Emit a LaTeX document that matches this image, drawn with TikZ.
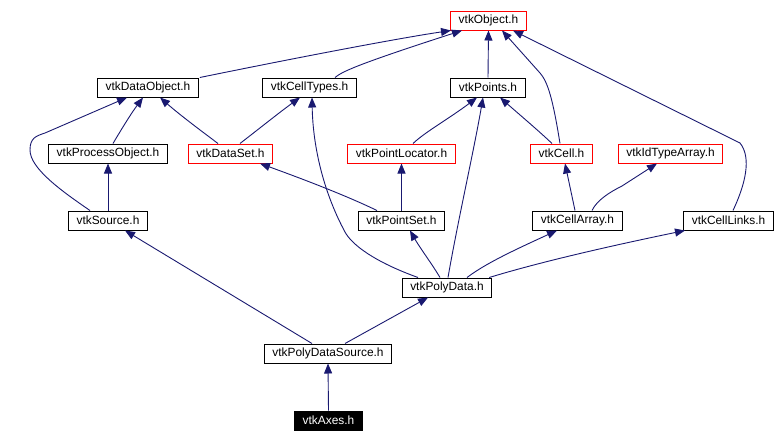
\documentclass[tikz,border=0pt]{standalone}
\usepackage{fontspec}
\setmainfont{Liberation Sans}
\usetikzlibrary{arrows.meta,calc}
\definecolor{edgeblue}{RGB}{25,25,112}
\tikzset{
  hbox/.style={draw=black, line width=1pt, rectangle, inner xsep=8pt, inner ysep=0pt,
    minimum height=19pt, font=\fontsize{11.9}{14}\selectfont, fill=white},
  redbox/.style={hbox, draw=red},
  blackbox/.style={hbox, fill=black, text=white},
  edge/.style={draw=edgeblue, line width=0.9pt, -{Triangle[length=10pt,width=8pt]}}
}
\begin{document}
\begin{tikzpicture}[x=1pt,y=-1pt]
\useasboundingbox (0,0) rectangle (778,442);
% nodes
\node[redbox] (obj) at (488.5,20.5) {vtkObject.h};
\node[hbox] (dobj) at (148,87.5) {vtkDataObject.h};
\node[hbox] (ctypes) at (309.5,87.5) {vtkCellTypes.h};
\node[hbox] (pts) at (488,87.5) {vtkPoints.h};
\node[hbox] (pobj) at (108,153.5) {vtkProcessObject.h};
\node[redbox] (dset) at (230.5,153.5) {vtkDataSet.h};
\node[redbox] (ploc) at (401.5,153.5) {vtkPointLocator.h};
\node[redbox] (cell) at (561.5,153.5) {vtkCell.h};
\node[redbox] (idta) at (670.5,153.5) {vtkIdTypeArray.h};
\node[hbox] (src) at (108,220.5) {vtkSource.h};
\node[hbox] (pset) at (401.5,220.5) {vtkPointSet.h};
\node[hbox] (carr) at (577.5,220.5) {vtkCellArray.h};
\node[hbox] (clinks) at (728.5,220.5) {vtkCellLinks.h};
\node[hbox] (pdata) at (447,287.5) {vtkPolyData.h};
\node[hbox] (pdsrc) at (328,353.5) {vtkPolyDataSource.h};
\node[blackbox] (axes) at (328.5,420.5) {vtkAxes.h};
% edges
\draw[edge] ([xshift=1pt]dobj.north east) .. controls (300,57) and (400,38) .. ([xshift=-37.5pt]obj.south);
\draw[edge] ([xshift=25.5pt]ctypes.north) .. controls (342,72) and (352,66) .. ([xshift=-26.5pt]obj.south);
\draw[edge] (pts.north) -- (obj.south);
\draw[edge] ([xshift=-1.5pt]cell.north) .. controls (553,100) and (548,82) .. (540,73) -- ([xshift=13.5pt]obj.south);
\draw[edge] ([xshift=4.5pt]clinks.north) .. controls (745,185) and (752,158) .. (740,143) -- ([xshift=24.5pt]obj.south);
\draw[edge] ([xshift=5pt]pobj.north) .. controls (118,135) and (130,115) .. ([xshift=-5pt]dobj.south);
\draw[edge] ([xshift=-18pt]src.north) .. controls (60,190) and (30,168) .. (30,150) .. controls (30,138) and (36,136) .. (45,133) -- ([xshift=-21pt]dobj.south);
\draw[edge] ([xshift=-12.5pt]dset.north) .. controls (200,130) and (180,115) .. ([xshift=12pt]dobj.south);
\draw[edge] ([xshift=9.5pt]dset.north) .. controls (260,128) and (280,112) .. ([xshift=-9.5pt]ctypes.south);
\draw[edge] ([xshift=-29pt]pdata.north) .. controls (375,262) and (352,245) .. (345,232) .. controls (325,195) and (313,150) .. ([xshift=2.5pt]ctypes.south);
\draw[edge] ([xshift=11.5pt]ploc.north) .. controls (425,132) and (450,118) .. ([xshift=-11pt]pts.south);
\draw[edge] ([xshift=-9.5pt]cell.north) .. controls (540,132) and (520,115) .. ([xshift=12pt]pts.south);
\draw[edge] (pset.north) -- (ploc.south);
\draw[edge] ([xshift=-24.5pt]pset.north) .. controls (345,195) and (300,178) .. ([xshift=29.5pt]dset.south);
\draw[edge] ([xshift=-2.5pt]carr.north) -- ([xshift=3.5pt]cell.south);
\draw[edge] ([xshift=14.5pt]carr.north) .. controls (597,200) and (610,192) .. (622,186) -- ([xshift=-13.5pt]idta.south);
\draw[edge] (src.north) -- (pobj.south);
\draw[edge] ([xshift=-16pt]pdsrc.north) -- ([xshift=17pt]src.south);
\draw[edge] ([xshift=17pt]pdsrc.north) -- ([xshift=-19pt]pdata.south);
\draw[edge] (axes.north) -- (pdsrc.south);
\draw[edge] ([xshift=1pt]pdata.north) .. controls (458,220) and (474,150) .. ([xshift=-5pt]pts.south);
\draw[edge] ([xshift=-7pt]pdata.north) .. controls (432,264) and (420,248) .. ([xshift=8.5pt]pset.south);
\draw[edge] ([xshift=20pt]pdata.north) .. controls (485,264) and (510,252) .. ([xshift=-20.5pt]carr.south);
\draw[edge] ([xshift=-3pt]pdata.north east) .. controls (540,262) and (610,246) .. ([xshift=-43.5pt]clinks.south);
\end{tikzpicture}
\end{document}
